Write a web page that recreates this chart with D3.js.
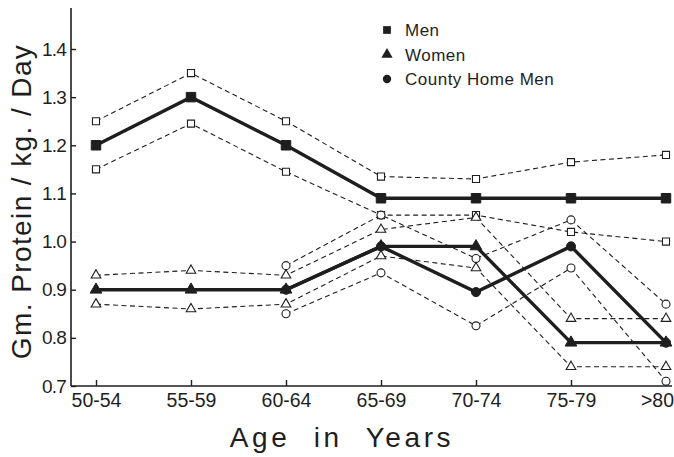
<!DOCTYPE html>
<html>
<head>
<meta charset="utf-8">
<script src="https://cdn.jsdelivr.net/npm/d3@7"></script>
<style>
  html, body { margin: 0; padding: 0; background: #fff; }
  svg { display: block; }
  text { font-family: "Liberation Sans", Arial, sans-serif; fill: #1e1e1e; }
</style>
</head>
<body>
<svg id="chart" width="674" height="457"></svg>
<script>
// Age groups along the x axis
const categories = ["50-54", "55-59", "60-64", "65-69", "70-74", "75-79", ">80"];

// Mean protein intake (g / kg / day) with upper and lower bounds per group
const menMean   = [1.20, 1.30, 1.20, 1.09, 1.09, 1.09, 1.09];
const menHigh   = [1.25, 1.35, 1.25, 1.135, 1.13, 1.165, 1.18];
const menLow    = [1.15, 1.245, 1.145, 1.055, 1.055, 1.02, 1.00];

const womenMean = [0.90, 0.90, 0.90, 0.99, 0.99, 0.79, 0.79];
const womenHigh = [0.93, 0.94, 0.93, 1.025, 1.05, 0.84, 0.84];
const womenLow  = [0.87, 0.86, 0.87, 0.97, 0.945, 0.74, 0.74];

const countyMean = [null, null, 0.90, 0.99, 0.895, 0.99, 0.79];
const countyHigh = [null, null, 0.95, 1.055, 0.965, 1.045, 0.87];
const countyLow  = [null, null, 0.85, 0.935, 0.825, 0.945, 0.71];

const yTicks = [0.7, 0.8, 0.9, 1.0, 1.1, 1.2, 1.3, 1.4];
const yTickLabels = ["0.7", "0.8", "0.9", "1.0", "1.1", "1.2", "1.3", "1.4"];
const yAxisTop = 1.485;

const legendItems = ["Men", "Women", "County Home Men"];

const ink = "#1e1e1e";
const svg = d3.select("#chart");

const x = d3.scalePoint().domain(categories).range([96, 666]);
const y = d3.scaleLinear().domain([0.7, 1.4]).range([386, 49]);
const axisX0 = 71;
const axisX1 = 672;

// Axes
const yAxis = d3.axisLeft(y)
  .tickValues(yTicks)
  .tickFormat((d, i) => yTickLabels[i])
  .tickSizeInner(-5)
  .tickSizeOuter(0)
  .tickPadding(5);
const gy = svg.append("g").attr("transform", `translate(${axisX0},0)`).call(yAxis);
gy.select(".domain").remove();
gy.selectAll("line").attr("stroke", ink).attr("stroke-width", 1.4);
gy.selectAll("text").attr("font-size", 19).attr("letter-spacing", -0.8);

const xAxis = d3.axisBottom(x).tickSizeInner(-6).tickSizeOuter(0).tickPadding(7);
const gx = svg.append("g").attr("transform", `translate(0,${y(0.7)})`).call(xAxis);
gx.select(".domain").remove();
gx.selectAll("line").attr("stroke", ink).attr("stroke-width", 1.4);
gx.selectAll("text").attr("font-size", 19.5);
// the last label sits against the right edge, so it is pulled in a little
gx.selectAll(".tick").filter(d => d === categories[categories.length - 1])
  .select("text").attr("dx", -9);

// Axis lines
svg.append("line")
  .attr("x1", axisX0).attr("x2", axisX0)
  .attr("y1", y(yAxisTop)).attr("y2", y(0.7))
  .attr("stroke", ink).attr("stroke-width", 1.6);
svg.append("line")
  .attr("x1", axisX0).attr("x2", axisX1)
  .attr("y1", y(0.7)).attr("y2", y(0.7))
  .attr("stroke", ink).attr("stroke-width", 1.6);

// Axis titles
svg.append("text")
  .attr("transform", `translate(31,${y(1.1) + 8}) rotate(-90)`)
  .attr("text-anchor", "middle")
  .attr("font-size", 28)
  .attr("letter-spacing", 1.4)
  .text("Gm. Protein / kg. / Day");
svg.append("text")
  .attr("x", 342).attr("y", 447)
  .attr("text-anchor", "middle")
  .attr("font-size", 28)
  .attr("letter-spacing", 3.6)
  .attr("word-spacing", 12)
  .text("Age in Years");

// Lines
const line = d3.line()
  .defined(d => d != null)
  .x((d, i) => x(categories[i]))
  .y(d => y(d));

const dashed = [menHigh, menLow, womenHigh, womenLow, countyHigh, countyLow];
svg.append("g").selectAll("path").data(dashed).join("path")
  .attr("d", d => line(d))
  .attr("fill", "none")
  .attr("stroke", ink)
  .attr("stroke-width", 1.1)
  .attr("stroke-dasharray", "5,3.5");

const solid = [menMean, womenMean, countyMean];
svg.append("g").selectAll("path").data(solid).join("path")
  .attr("d", d => line(d))
  .attr("fill", "none")
  .attr("stroke", ink)
  .attr("stroke-width", 3.4)
  .attr("stroke-linejoin", "miter");

// Markers
const shapes = [d3.symbolSquare, d3.symbolTriangle, d3.symbolCircle];
function points(values) {
  return values.map((v, i) => ({ v, c: categories[i] })).filter(p => p.v != null);
}
function drawMarkers(values, shape, size, filled) {
  svg.append("g").selectAll("path").data(points(values)).join("path")
    .attr("transform", p => `translate(${x(p.c)},${y(p.v)})`)
    .attr("d", d3.symbol().type(shape).size(size))
    .attr("fill", filled ? ink : "#fff")
    .attr("stroke", ink)
    .attr("stroke-width", filled ? 1 : 1.1);
}

drawMarkers(menHigh, shapes[0], 50, false);
drawMarkers(menLow, shapes[0], 50, false);
drawMarkers(womenHigh, shapes[1], 40, false);
drawMarkers(womenLow, shapes[1], 40, false);
drawMarkers(countyHigh, shapes[2], 50, false);
drawMarkers(countyLow, shapes[2], 50, false);

drawMarkers(menMean, shapes[0], 90, true);
drawMarkers(womenMean, shapes[1], 60, true);
drawMarkers(countyMean, shapes[2], 65, true);

// Legend
const legend = svg.append("g").attr("transform", "translate(387,30)");
const rows = legend.selectAll("g").data(legendItems).join("g")
  .attr("transform", (d, i) => `translate(0,${i * 24.5})`);
rows.append("path")
  .attr("d", (d, i) => d3.symbol().type(shapes[i]).size([60, 55, 55][i])())
  .attr("fill", ink);
rows.append("text")
  .attr("x", 18).attr("y", 6)
  .attr("font-size", 17)
  .attr("letter-spacing", 0.5)
  .text(d => d);
</script>
</body>
</html>
